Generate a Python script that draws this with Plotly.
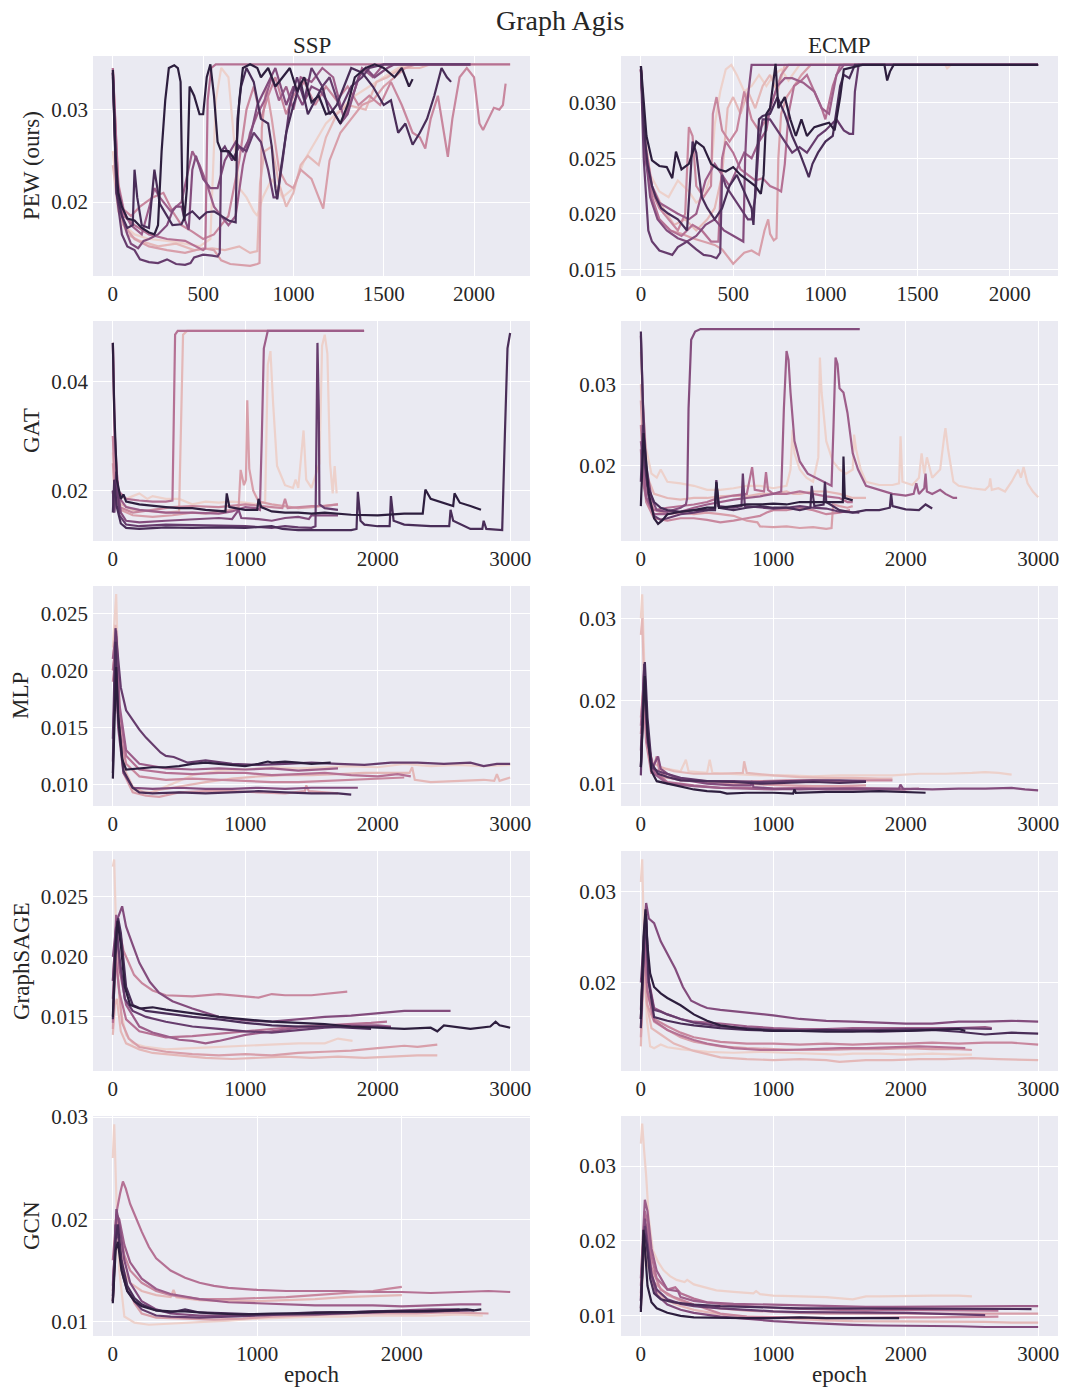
import math
import plotly.graph_objects as go

TITLE = "Graph Agis"
COLUMNS = ["SSP", "ECMP"]
ROWS = ["PEW (ours)", "GAT", "MLP", "GraphSAGE", "GCN"]
X_LABEL = "epoch"

# ---- data: each panel is a list of runs; each run is a list of [epoch, loss] ----
PEW_SSP = [
    [[0,0.0255],[20,0.021],[60,0.0175],[120,0.0165],[200,0.016],[300,0.0158],[400,0.0155],[480,0.0152],[540,0.016],[570,0.031],[600,0.0345],[640,0.0335],[670,0.027],[700,0.0215],[740,0.0205],[780,0.019],[800,0.0185],[830,0.0205],[880,0.0225],[940,0.0205],[1000,0.0215],[1060,0.0245],[1120,0.0265],[1180,0.0285],[1260,0.03],[1340,0.0315],[1420,0.0325],[1500,0.0335],[1580,0.0345],[1650,0.0349],[2200,0.0349]],
    [[0,0.024],[30,0.019],[80,0.0165],[150,0.0158],[250,0.0152],[350,0.0155],[450,0.0148],[550,0.015],[620,0.0148],[700,0.0152],[760,0.0145],[800,0.0147],[815,0.022],[840,0.0255],[880,0.026],[920,0.022],[960,0.0195],[1000,0.021],[1040,0.024],[1080,0.025],[1140,0.024],[1180,0.027],[1240,0.0295],[1300,0.0305],[1400,0.03],[1460,0.033],[1520,0.0335],[1600,0.0345],[1700,0.0345],[1760,0.0349],[1980,0.0349]],
    [[0,0.034],[30,0.022],[60,0.0175],[120,0.016],[200,0.0152],[300,0.0148],[400,0.0145],[500,0.015],[560,0.0148],[600,0.0137],[650,0.0133],[700,0.0132],[760,0.0131],[800,0.0133],[812,0.0134],[825,0.028],[850,0.0325],[880,0.029],[920,0.0235],[960,0.022],[1000,0.0215],[1040,0.0235],[1100,0.0225],[1140,0.0205],[1165,0.0193],[1200,0.0245],[1260,0.0275],[1320,0.029],[1380,0.0305],[1440,0.031],[1500,0.0325],[1560,0.0335],[1620,0.0345],[1680,0.0349],[1980,0.0349]],
    [[0,0.0345],[30,0.022],[60,0.0192],[100,0.0185],[150,0.0195],[220,0.0205],[280,0.021],[330,0.019],[380,0.0175],[440,0.0168],[500,0.016],[560,0.0165],[600,0.0175],[640,0.0185],[700,0.0245],[740,0.03],[780,0.0325],[820,0.029],[860,0.0315],[900,0.0335],[960,0.0295],[1000,0.0315],[1060,0.033],[1120,0.0305],[1180,0.0325],[1240,0.031],[1300,0.0325],[1360,0.0305],[1420,0.0315],[1480,0.0305],[1540,0.033],[1600,0.0305],[1660,0.0275],[1700,0.027],[1730,0.0258],[1760,0.029],[1800,0.0315],[1840,0.0265],[1855,0.0249],[1880,0.029],[1920,0.0335],[1960,0.0345],[2000,0.0335],[2030,0.0285],[2050,0.0278],[2080,0.029],[2110,0.0302],[2140,0.030],[2160,0.0305],[2175,0.0328]],
    [[0,0.0345],[30,0.021],[60,0.0185],[120,0.0175],[200,0.0165],[300,0.016],[400,0.0158],[460,0.0152],[500,0.0148],[512,0.015],[525,0.031],[545,0.0345],[570,0.0349],[2200,0.0349]],
    [[0,0.034],[25,0.022],[60,0.019],[100,0.0175],[160,0.0165],[230,0.0215],[260,0.0205],[320,0.019],[380,0.02],[420,0.0235],[440,0.0255],[480,0.024],[520,0.022],[560,0.0195],[600,0.0185],[640,0.0175],[680,0.0185],[720,0.024],[760,0.0275],[800,0.0295],[840,0.031],[880,0.0335],[920,0.031],[960,0.0325],[1000,0.03],[1040,0.0335],[1100,0.033],[1160,0.0345],[1220,0.0335],[1280,0.029],[1320,0.031],[1380,0.0345],[1440,0.0335],[1500,0.0349],[1980,0.0349]],
    [[0,0.034],[20,0.022],[50,0.0185],[80,0.0165],[100,0.0155],[140,0.015],[170,0.0158],[200,0.016],[250,0.0165],[300,0.0175],[330,0.019],[350,0.0195],[380,0.0195],[400,0.018],[420,0.017],[440,0.0235],[460,0.025],[500,0.0225],[540,0.0215],[580,0.0215],[620,0.0245],[680,0.0265],[720,0.0255],[760,0.027],[800,0.0305],[860,0.033],[900,0.0345],[960,0.0305],[1000,0.0325],[1050,0.0305],[1100,0.0325],[1150,0.032],[1200,0.0305],[1260,0.0285],[1300,0.0295],[1360,0.0335],[1400,0.0345],[1450,0.0335],[1520,0.0345],[1560,0.0349],[1980,0.0349]],
    [[0,0.0335],[20,0.021],[50,0.0165],[80,0.0152],[120,0.0148],[150,0.0138],[200,0.0135],[250,0.0134],[300,0.0138],[350,0.0133],[400,0.0132],[430,0.0134],[450,0.014],[500,0.0143],[550,0.0142],[580,0.0141],[592,0.0145],[600,0.0255],[620,0.026],[660,0.0245],[700,0.026],[740,0.0255],[780,0.0275],[820,0.0265],[860,0.0235],[890,0.0205],[910,0.0205],[940,0.0245],[980,0.0305],[1020,0.0335],[1060,0.031],[1100,0.0345],[1160,0.0325],[1200,0.0335],[1260,0.03],[1320,0.0325],[1380,0.0335],[1420,0.0345],[1500,0.0349],[1980,0.0349]],
    [[0,0.034],[20,0.021],[50,0.0185],[80,0.0172],[110,0.0175],[120,0.0235],[135,0.0205],[160,0.0175],[200,0.0172],[230,0.0235],[260,0.0198],[300,0.0185],[330,0.0175],[380,0.0176],[400,0.0185],[440,0.019],[480,0.0182],[520,0.0189],[560,0.019],[600,0.0185],[640,0.018],[680,0.0178],[690,0.029],[710,0.0325],[740,0.0345],[780,0.033],[820,0.029],[860,0.0285],[880,0.026],[900,0.0215],[910,0.0203],[930,0.0235],[960,0.0275],[1000,0.0305],[1040,0.033],[1080,0.0295],[1120,0.031],[1160,0.0325],[1200,0.0295],[1240,0.0305],[1280,0.0325],[1320,0.0345],[1380,0.034],[1440,0.0325],[1500,0.0305],[1540,0.031],[1580,0.0275],[1620,0.0285],[1660,0.0262],[1700,0.0275],[1740,0.029],[1780,0.0315],[1820,0.0345],[1850,0.0335],[1873,0.033]],
    [[0,0.0343],[15,0.025],[30,0.021],[50,0.0195],[80,0.0182],[120,0.018],[160,0.0172],[200,0.0167],[230,0.0165],[250,0.0175],[270,0.0255],[290,0.031],[310,0.0345],[340,0.0348],[360,0.0345],[375,0.033],[385,0.0205],[395,0.018],[410,0.0215],[425,0.0325],[450,0.0315],[480,0.0295],[500,0.0295],[520,0.0335],[540,0.0349],[560,0.0315],[580,0.0265],[600,0.0255],[640,0.0255],[680,0.0245],[700,0.031],[720,0.0345],[760,0.0349],[800,0.0345],[820,0.0335],[860,0.0345],[900,0.0325],[940,0.0335],[980,0.0345],[1020,0.032],[1060,0.0335],[1100,0.0308],[1140,0.0315],[1180,0.0295],[1220,0.0298],[1260,0.0285],[1300,0.0305],[1340,0.0335],[1400,0.0345],[1450,0.0349],[1500,0.0345],[1560,0.0335],[1600,0.0345],[1640,0.0325],[1660,0.0333]],
]

PEW_ECMP = [
    [[0,0.0325],[20,0.027],[50,0.0235],[100,0.022],[150,0.0215],[200,0.023],[260,0.022],[300,0.021],[340,0.0215],[380,0.0235],[400,0.028],[430,0.031],[460,0.033],[490,0.0334],[520,0.0325],[560,0.031],[600,0.0315],[640,0.0325],[680,0.0315],[720,0.0325],[760,0.033],[800,0.032],[860,0.0334],[1650,0.0334],[1660,0.0331],[1680,0.0334],[2153,0.0334]],
    [[0,0.033],[25,0.0265],[60,0.0225],[120,0.0205],[180,0.019],[240,0.0195],[300,0.0185],[360,0.0195],[400,0.0205],[440,0.0235],[470,0.0295],[500,0.0305],[540,0.029],[580,0.031],[620,0.0295],[660,0.0315],[700,0.0325],[740,0.031],[780,0.0334],[2153,0.0334]],
    [[0,0.033],[25,0.026],[60,0.021],[100,0.0195],[160,0.0185],[220,0.0182],[280,0.0178],[340,0.0175],[400,0.0172],[440,0.0168],[480,0.016],[500,0.0155],[530,0.016],[560,0.0165],[600,0.0167],[640,0.0163],[670,0.0185],[690,0.0195],[700,0.0182],[720,0.0176],[735,0.0178],[745,0.025],[760,0.029],[790,0.0305],[830,0.0315],[870,0.0325],[920,0.0334],[2153,0.0334]],
    [[0,0.033],[25,0.025],[60,0.022],[100,0.0205],[150,0.0195],[200,0.0185],[240,0.02],[260,0.0278],[280,0.027],[300,0.0225],[340,0.0215],[380,0.0225],[390,0.029],[410,0.0305],[440,0.0275],[480,0.0265],[520,0.0275],[560,0.031],[600,0.0285],[640,0.0275],[680,0.0285],[720,0.0305],[760,0.0325],[800,0.0334],[2153,0.0334]],
    [[0,0.033],[25,0.025],[60,0.0215],[100,0.0195],[160,0.0185],[220,0.018],[280,0.019],[330,0.0185],[380,0.0175],[420,0.0175],[440,0.025],[460,0.0265],[500,0.0255],[540,0.024],[580,0.0235],[620,0.023],[660,0.0232],[700,0.0225],[740,0.0222],[760,0.022],[780,0.0245],[800,0.029],[830,0.0315],[870,0.032],[900,0.0325],[940,0.031],[980,0.0295],[1000,0.0285],[1040,0.0315],[1080,0.0334],[2153,0.0334]],
    [[0,0.033],[25,0.026],[60,0.0225],[100,0.021],[150,0.0205],[200,0.02],[260,0.0195],[300,0.02],[350,0.023],[400,0.0245],[440,0.0235],[480,0.0225],[520,0.024],[560,0.0255],[600,0.025],[640,0.0265],[680,0.0275],[700,0.0295],[740,0.0315],[780,0.0322],[820,0.0322],[880,0.0318],[940,0.031],[980,0.0295],[1020,0.029],[1060,0.0325],[1100,0.0334],[2153,0.0334]],
    [[0,0.033],[20,0.026],[50,0.0215],[90,0.0195],[140,0.0185],[200,0.0178],[250,0.0175],[300,0.018],[350,0.019],[400,0.0195],[450,0.0185],[500,0.018],[540,0.0176],[555,0.0175],[565,0.025],[580,0.0305],[600,0.0334],[2153,0.0334]],
    [[0,0.033],[15,0.025],[40,0.0185],[60,0.0175],[100,0.0167],[140,0.0165],[170,0.0163],[200,0.017],[250,0.0175],[300,0.0168],[340,0.0163],[380,0.0162],[410,0.016],[430,0.0165],[440,0.0235],[460,0.0225],[500,0.0215],[540,0.0205],[580,0.0195],[600,0.0195],[620,0.0215],[640,0.0265],[660,0.0285],[700,0.0285],[740,0.0275],[780,0.0265],[820,0.0255],[860,0.026],[900,0.0255],[960,0.027],[1000,0.0275],[1060,0.0285],[1100,0.0275],[1130,0.0272],[1150,0.0272],[1160,0.031],[1180,0.0334],[2153,0.0334]],
    [[0,0.0333],[15,0.028],[35,0.0245],[60,0.0225],[80,0.0215],[110,0.0205],[150,0.02],[200,0.0195],[250,0.0185],[280,0.0265],[300,0.0255],[330,0.0215],[360,0.0205],[400,0.0195],[440,0.0205],[480,0.0225],[520,0.0235],[560,0.022],[600,0.0205],[610,0.019],[620,0.0225],[640,0.0285],[660,0.0288],[700,0.029],[740,0.0305],[780,0.029],[820,0.027],[860,0.0255],[890,0.0242],[910,0.0233],[930,0.0245],[960,0.0255],[1000,0.0265],[1040,0.027],[1080,0.0315],[1100,0.0325],[1130,0.0322],[1160,0.0334],[2153,0.0334]],
    [[0,0.0333],[15,0.03],[30,0.027],[60,0.0248],[100,0.0243],[140,0.0242],[170,0.0232],[190,0.0256],[220,0.024],[260,0.0245],[300,0.0265],[340,0.026],[380,0.0245],[420,0.024],[460,0.0238],[500,0.0242],[540,0.0235],[580,0.023],[620,0.0225],[650,0.0218],[665,0.0235],[680,0.029],[700,0.0295],[730,0.0335],[745,0.0295],[780,0.0305],[810,0.0285],[840,0.027],[870,0.0285],[900,0.027],[940,0.0278],[980,0.028],[1020,0.0282],[1050,0.0275],[1080,0.0305],[1100,0.033],[1200,0.0334],[1320,0.0334],[1335,0.032],[1350,0.0328],[1370,0.0334],[2153,0.0334]],
]

GAT_SSP = [
    [[0,0.027],[10,0.02],[50,0.019],[100,0.0185],[150,0.019],[200,0.0195],[260,0.0185],[300,0.019],[400,0.0185],[500,0.0185],[600,0.0175],[700,0.018],[800,0.0178],[900,0.018],[1000,0.0178],[1100,0.0175],[1150,0.018],[1170,0.043],[1190,0.0455],[1210,0.036],[1240,0.0245],[1300,0.021],[1360,0.0205],[1380,0.022],[1400,0.0205],[1440,0.031],[1460,0.022],[1500,0.0205],[1560,0.025],[1580,0.0465],[1600,0.0485],[1620,0.045],[1640,0.025],[1660,0.0195],[1675,0.0245],[1690,0.0195]],
    [[0,0.03],[15,0.022],[60,0.0175],[150,0.0165],[300,0.0162],[400,0.016],[500,0.0162],[515,0.035],[530,0.0485],[560,0.0492],[1897,0.0492]],
    [[0,0.025],[15,0.019],[60,0.0165],[150,0.0155],[300,0.0152],[450,0.0155],[600,0.016],[700,0.0158],[800,0.0162],[900,0.0165],[950,0.017],[965,0.0238],[990,0.021],[1005,0.022],[1015,0.0365],[1030,0.024],[1060,0.02],[1100,0.018],[1200,0.0175],[1300,0.0172],[1400,0.0168],[1500,0.017],[1600,0.0172],[1700,0.0175]],
    [[0,0.03],[15,0.02],[50,0.017],[150,0.016],[300,0.0165],[450,0.017],[600,0.0172],[800,0.017],[1000,0.0175],[1100,0.0172],[1200,0.017],[1280,0.0168],[1300,0.0185],[1320,0.0168],[1400,0.017],[1500,0.0172],[1600,0.0172],[1700,0.0175]],
    [[0,0.047],[15,0.028],[40,0.02],[100,0.0185],[200,0.0182],[300,0.018],[400,0.018],[450,0.0182],[458,0.03],[470,0.0485],[490,0.0492],[1897,0.0492]],
    [[0,0.047],[15,0.03],[40,0.019],[100,0.017],[200,0.0165],[400,0.016],[600,0.016],[800,0.0158],[900,0.0162],[1000,0.017],[1080,0.0168],[1110,0.0165],[1125,0.03],[1140,0.046],[1170,0.0492],[1897,0.0492]],
    [[0,0.02],[10,0.016],[30,0.022],[60,0.016],[100,0.0145],[200,0.0142],[400,0.0145],[600,0.0148],[800,0.015],[900,0.0148],[950,0.0165],[970,0.015],[1100,0.0148],[1200,0.0145],[1300,0.015],[1400,0.0152],[1480,0.0148],[1500,0.0155],[1600,0.0155],[1700,0.0155]],
    [[0,0.02],[10,0.016],[25,0.0235],[50,0.0155],[100,0.0138],[200,0.0135],[400,0.0138],[600,0.0137],[800,0.0135],[1000,0.0135],[1200,0.0132],[1300,0.0135],[1400,0.0133],[1500,0.0132],[1530,0.0135],[1545,0.047],[1555,0.035],[1560,0.0175],[1600,0.0168],[1700,0.0165]],
    [[0,0.016],[10,0.022],[30,0.017],[60,0.014],[100,0.0132],[200,0.013],[400,0.0133],[600,0.0132],[800,0.0133],[1000,0.0132],[1200,0.0135],[1280,0.013],[1400,0.0128],[1600,0.0128],[1800,0.0128],[1840,0.013],[1850,0.0198],[1870,0.0145],[1900,0.0138],[2000,0.0135],[2090,0.0135],[2100,0.019],[2120,0.0145],[2200,0.0138],[2400,0.0135],[2540,0.0135],[2550,0.0165],[2570,0.0145],[2700,0.013],[2790,0.013],[2800,0.0145],[2820,0.013],[2900,0.0128],[2940,0.0128],[2960,0.03],[2980,0.046],[3000,0.0488]],
    [[0,0.047],[10,0.035],[30,0.022],[60,0.0185],[80,0.0193],[100,0.018],[200,0.0175],[300,0.0172],[400,0.017],[500,0.0168],[600,0.0168],[700,0.0165],[800,0.0163],[850,0.0162],[860,0.0195],[880,0.017],[1000,0.0165],[1090,0.0165],[1100,0.0185],[1120,0.017],[1200,0.0162],[1300,0.016],[1400,0.016],[1500,0.0158],[1600,0.016],[1700,0.0158],[1800,0.0156],[2000,0.0155],[2200,0.0158],[2340,0.0158],[2360,0.0202],[2400,0.0185],[2500,0.0178],[2570,0.0172],[2580,0.0195],[2620,0.0178],[2700,0.0172],[2780,0.0165]],
]

GAT_ECMP = [
    [[0,0.034],[15,0.027],[40,0.022],[80,0.019],[120,0.0185],[150,0.0195],[200,0.018],[300,0.0178],[400,0.0175],[500,0.017],[600,0.017],[700,0.0172],[800,0.0175],[900,0.0175],[1000,0.0172],[1100,0.0175],[1130,0.0195],[1146,0.0244],[1160,0.0215],[1200,0.0195],[1250,0.0185],[1300,0.018],[1340,0.021],[1352,0.0333],[1365,0.029],[1400,0.023],[1450,0.0205],[1500,0.0195],[1550,0.019],[1600,0.0195],[1610,0.0238],[1625,0.022],[1660,0.0195],[1700,0.018],[1800,0.0176],[1900,0.0176],[1950,0.0178],[1961,0.0236],[1975,0.018],[2050,0.0176],[2100,0.0185],[2120,0.0215],[2140,0.019],[2160,0.021],[2200,0.0185],[2260,0.0195],[2290,0.0235],[2300,0.0246],[2320,0.022],[2360,0.018],[2400,0.0175],[2500,0.0172],[2600,0.017],[2630,0.0175],[2638,0.0184],[2650,0.017],[2700,0.0172],[2750,0.0168],[2800,0.018],[2850,0.0195],[2870,0.0185],[2890,0.0198],[2920,0.0178],[2960,0.0168],[3000,0.0161]],
    [[0,0.03],[15,0.024],[40,0.019],[100,0.0165],[200,0.016],[300,0.0158],[400,0.016],[500,0.016],[600,0.0162],[700,0.0163],[800,0.0162],[900,0.0165],[1000,0.0165],[1100,0.0168],[1150,0.0165],[1200,0.0165],[1300,0.0168],[1400,0.0168],[1500,0.0165],[1600,0.016],[1700,0.016]],
    [[0,0.028],[15,0.022],[40,0.017],[100,0.0145],[200,0.014],[300,0.0142],[400,0.014],[500,0.0142],[600,0.014],[700,0.0138],[800,0.0132],[880,0.013],[900,0.0125],[1000,0.0124],[1100,0.0125],[1200,0.0123],[1300,0.0124],[1400,0.0122],[1440,0.0123],[1452,0.0152],[1500,0.015],[1560,0.0148],[1600,0.015]],
    [[0,0.025],[15,0.02],[40,0.0155],[100,0.0135],[200,0.0132],[300,0.0135],[400,0.0135],[500,0.0133],[600,0.013],[700,0.0132],[800,0.0135],[900,0.0138],[950,0.0142],[1000,0.0145],[1100,0.0145],[1200,0.0148],[1300,0.0145],[1400,0.014],[1500,0.0142],[1580,0.0145]],
    [[0,0.022],[15,0.018],[40,0.016],[100,0.0145],[200,0.0148],[300,0.015],[400,0.0152],[500,0.0155],[550,0.0158],[600,0.016],[700,0.0163],[800,0.0165],[840,0.0198],[860,0.017],[930,0.0168],[945,0.0192],[960,0.017],[1000,0.0165],[1100,0.0165],[1200,0.0168],[1300,0.0165],[1400,0.0162],[1500,0.016],[1560,0.0155],[1600,0.0155]],
    [[0,0.023],[15,0.02],[40,0.016],[100,0.014],[200,0.014],[300,0.0143],[400,0.0148],[500,0.0152],[600,0.0155],[700,0.0158],[800,0.016],[900,0.0162],[1000,0.0165],[1060,0.0168],[1080,0.027],[1100,0.0341],[1115,0.033],[1130,0.029],[1160,0.023],[1200,0.0205],[1260,0.019],[1320,0.0185],[1400,0.0178],[1440,0.0175],[1455,0.025],[1470,0.0333],[1485,0.0325],[1500,0.0295],[1530,0.029],[1560,0.0265],[1600,0.0215],[1640,0.0195],[1700,0.0175],[1800,0.017],[1900,0.0165],[2000,0.0163],[2060,0.0165],[2080,0.0178],[2100,0.0165],[2140,0.0172],[2150,0.019],[2160,0.0168],[2200,0.0165],[2260,0.017],[2300,0.0165],[2360,0.016],[2388,0.016]],
    [[0,0.036],[15,0.028],[40,0.02],[80,0.016],[120,0.0145],[200,0.0143],[300,0.0148],[340,0.0152],[350,0.016],[360,0.027],[380,0.0355],[410,0.0365],[450,0.0368],[1653,0.0368]],
    [[0,0.018],[15,0.025],[30,0.02],[60,0.016],[100,0.0138],[150,0.0133],[200,0.0135],[300,0.014],[400,0.0142],[500,0.0145],[560,0.0148],[570,0.0182],[585,0.015],[700,0.0148],[760,0.015],[770,0.019],[785,0.015],[900,0.0148],[1000,0.0147],[1100,0.0148],[1200,0.015],[1300,0.0148],[1400,0.0147],[1500,0.0143],[1600,0.0142],[1650,0.0142]],
    [[0,0.0365],[10,0.03],[25,0.022],[50,0.0175],[100,0.0155],[150,0.0148],[200,0.0145],[300,0.0143],[400,0.0145],[560,0.0145],[570,0.0178],[590,0.0148],[700,0.0145],[800,0.0148],[900,0.015],[1000,0.0148],[1100,0.0148],[1200,0.0145],[1280,0.0148],[1290,0.0175],[1310,0.015],[1380,0.0152],[1390,0.018],[1400,0.0155],[1500,0.0145],[1600,0.0142],[1700,0.0145],[1800,0.0145],[1880,0.0148],[1890,0.0165],[1900,0.015],[2000,0.0146],[2100,0.0145],[2150,0.0152],[2200,0.0147]],
    [[0,0.015],[10,0.02],[20,0.024],[40,0.0205],[60,0.0165],[100,0.0135],[130,0.0128],[160,0.0132],[200,0.014],[300,0.0143],[400,0.0145],[500,0.0148],[560,0.0148],[570,0.018],[590,0.0148],[700,0.015],[800,0.0152],[900,0.0152],[1000,0.0153],[1100,0.0152],[1200,0.0155],[1300,0.0155],[1400,0.0155],[1500,0.0155],[1525,0.0155],[1530,0.0211],[1540,0.016],[1600,0.0157]],
]

MLP_SSP = [
    [[0,0.022],[15,0.025],[25,0.0267],[40,0.02],[60,0.014],[100,0.0108],[150,0.0095],[200,0.0094],[300,0.0093],[400,0.0098],[600,0.0108],[800,0.0112],[1000,0.0113],[1200,0.0115],[1400,0.0114],[1600,0.0115],[1800,0.0116],[2000,0.0115],[2200,0.0118],[2400,0.0116],[2600,0.0117],[2800,0.0116],[3000,0.0117]],
    [[0,0.021],[20,0.024],[40,0.018],[80,0.0115],[150,0.0098],[250,0.0092],[350,0.0095],[500,0.0098],[700,0.0102],[900,0.0105],[1100,0.0107],[1300,0.0108],[1500,0.0108],[1700,0.0109],[1900,0.011],[2100,0.011],[2240,0.011],[2260,0.0115],[2280,0.0104],[2400,0.0102],[2600,0.0103],[2800,0.0104],[2880,0.0103],[2900,0.0109],[2920,0.0103],[3000,0.0106]],
    [[0,0.02],[20,0.022],[40,0.016],[80,0.011],[150,0.0093],[250,0.009],[350,0.0089],[500,0.0093],[700,0.0094],[900,0.0094],[1100,0.0093],[1300,0.0092],[1450,0.0094],[1460,0.0099],[1480,0.0094],[1600,0.0093],[1700,0.0092]],
    [[0,0.019],[25,0.022],[50,0.015],[100,0.0118],[200,0.0107],[400,0.0104],[600,0.0105],[800,0.0104],[1000,0.0103],[1200,0.0102],[1400,0.0102],[1600,0.0103],[1800,0.0104],[2000,0.0105],[2200,0.0106]],
    [[0,0.02],[25,0.023],[50,0.0165],[100,0.0125],[200,0.0113],[400,0.011],[600,0.0109],[800,0.011],[1000,0.011],[1200,0.0108],[1400,0.0109],[1600,0.011],[1800,0.0108],[2000,0.0107],[2150,0.0109],[2250,0.0107]],
    [[0,0.021],[25,0.0235],[50,0.017],[100,0.013],[200,0.0118],[400,0.0114],[600,0.0113],[800,0.0114],[1000,0.0113],[1200,0.0114],[1400,0.0112],[1600,0.0113],[1700,0.0114]],
    [[0,0.012],[20,0.022],[40,0.015],[80,0.011],[150,0.0097],[300,0.0096],[500,0.0097],[700,0.0096],[900,0.0096],[1100,0.0097],[1300,0.0096],[1500,0.0097],[1700,0.0097],[1850,0.0097]],
    [[0,0.014],[20,0.0237],[40,0.021],[60,0.0185],[100,0.0165],[150,0.0156],[200,0.0148],[250,0.0141],[300,0.0135],[360,0.0128],[400,0.0125],[460,0.0124],[565,0.0119],[700,0.0121],[900,0.0118],[1100,0.0117],[1300,0.0118],[1500,0.0119],[1700,0.0118],[1900,0.0117],[2100,0.0119],[2300,0.0119],[2500,0.0118],[2700,0.0119],[2800,0.0116],[2900,0.0118],[3000,0.0118]],
    [[0,0.011],[20,0.0225],[40,0.016],[80,0.0112],[150,0.0097],[200,0.0093],[300,0.0092],[500,0.0093],[700,0.0092],[900,0.0093],[1100,0.0094],[1300,0.0093],[1500,0.0092],[1700,0.0092],[1800,0.0091]],
    [[0,0.0105],[15,0.017],[25,0.0203],[40,0.016],[70,0.0122],[100,0.0113],[200,0.0114],[300,0.0115],[400,0.0115],[500,0.0116],[600,0.0118],[700,0.0119],[800,0.0118],[900,0.0117],[1000,0.0116],[1100,0.0118],[1170,0.012],[1200,0.0119],[1300,0.012],[1400,0.0119],[1500,0.0118],[1645,0.0119]],
]

MLP_ECMP = [
    [[0,0.03],[10,0.0329],[25,0.025],[50,0.016],[80,0.0125],[120,0.0115],[200,0.0118],[300,0.0115],[340,0.0129],[360,0.0115],[500,0.0113],[520,0.0129],[540,0.0113],[700,0.0112],[900,0.011],[1100,0.011],[1300,0.0109],[1500,0.011],[1700,0.011],[1900,0.011],[2100,0.0112],[2300,0.0112],[2500,0.0113],[2600,0.0114],[2700,0.0113],[2800,0.0111]],
    [[0,0.028],[10,0.03],[25,0.022],[50,0.015],[90,0.0125],[150,0.012],[250,0.0115],[400,0.0112],[600,0.0112],[770,0.0113],[780,0.0127],[800,0.0113],[1000,0.011],[1200,0.0108],[1400,0.0107],[1600,0.0107],[1800,0.0106],[1900,0.0106]],
    [[0,0.018],[20,0.022],[40,0.016],[80,0.0115],[150,0.0108],[300,0.0105],[500,0.0102],[700,0.01],[900,0.0099],[1100,0.0098],[1300,0.0097],[1500,0.0097],[1700,0.0098]],
    [[0,0.016],[20,0.021],[40,0.015],[80,0.0112],[120,0.0133],[140,0.0115],[200,0.0108],[300,0.0104],[500,0.0103],[700,0.0102],[900,0.0103],[1100,0.0104],[1300,0.0104],[1500,0.0103],[1700,0.0104],[1900,0.0104]],
    [[0,0.017],[25,0.0235],[50,0.015],[100,0.0115],[200,0.0102],[400,0.0098],[600,0.0095],[800,0.0095],[1000,0.0094],[1200,0.0095],[1400,0.0094],[1600,0.0095],[1800,0.0094],[2000,0.0093],[2100,0.0094]],
    [[0,0.014],[25,0.024],[50,0.0155],[100,0.0112],[200,0.01],[400,0.0097],[600,0.0095],[800,0.0094],[1000,0.0093],[1200,0.0094],[1400,0.0093],[1600,0.0093],[1800,0.0093],[2000,0.0093]],
    [[0,0.012],[25,0.024],[50,0.015],[90,0.012],[130,0.0133],[150,0.0118],[200,0.0112],[300,0.0105],[500,0.01],[700,0.0098],[830,0.0098],[840,0.0103],[850,0.0096],[1000,0.0094],[1200,0.0093],[1400,0.0094],[1600,0.0094],[1800,0.0094],[1950,0.0094],[1960,0.0099],[1980,0.0094],[2200,0.0093],[2400,0.0094],[2600,0.0094],[2800,0.0095],[2900,0.0093],[3000,0.0092]],
    [[0,0.011],[25,0.0245],[50,0.016],[80,0.012],[130,0.0115],[200,0.0112],[300,0.0107],[500,0.0103],[700,0.0103],[900,0.0102],[1100,0.0103],[1300,0.0104],[1500,0.0104],[1700,0.0103]],
    [[0,0.012],[30,0.0247],[50,0.018],[80,0.0125],[130,0.0112],[200,0.0108],[300,0.0104],[500,0.0103],[700,0.0102],[900,0.01],[1100,0.0101],[1300,0.0102],[1500,0.0101],[1700,0.0102]],
    [[0,0.012],[30,0.023],[50,0.016],[80,0.0115],[120,0.0103],[200,0.01],[300,0.0097],[400,0.0093],[500,0.0091],[600,0.009],[650,0.0088],[800,0.0089],[1000,0.0089],[1150,0.0088],[1160,0.0093],[1170,0.0089],[1400,0.009],[1600,0.009],[1800,0.0091],[2000,0.009],[2150,0.0089]],
]

SAGE_SSP = [
    [[0,0.0275],[10,0.0281],[25,0.022],[50,0.016],[100,0.0135],[150,0.0128],[250,0.0125],[400,0.0123],[600,0.0124],[800,0.0125],[1000,0.0126],[1200,0.0127],[1400,0.0128],[1600,0.0128],[1700,0.0132],[1810,0.013]],
    [[0,0.0135],[15,0.016],[30,0.0165],[60,0.0138],[100,0.0128],[200,0.0123],[300,0.012],[500,0.0118],[700,0.0116],[900,0.0115],[1100,0.0116],[1300,0.0117],[1500,0.0116],[1700,0.0117],[1900,0.0116],[2100,0.0117],[2300,0.0118],[2450,0.0118]],
    [[0,0.014],[20,0.021],[40,0.018],[70,0.0145],[120,0.0132],[200,0.0125],[400,0.0121],[600,0.0119],[800,0.0118],[1000,0.0119],[1200,0.0118],[1400,0.012],[1600,0.0121],[1800,0.0122],[2000,0.0124],[2200,0.0126],[2300,0.0125],[2450,0.0127]],
    [[0,0.018],[25,0.023],[45,0.0225],[80,0.0205],[120,0.0195],[160,0.0185],[220,0.0178],[300,0.0172],[400,0.0168],[600,0.0167],[800,0.0169],[1000,0.0167],[1100,0.0166],[1200,0.0169],[1300,0.0168],[1500,0.0168],[1650,0.017],[1770,0.0171]],
    [[0,0.0145],[20,0.02],[50,0.017],[100,0.0148],[200,0.0138],[400,0.0133],[600,0.0134],[800,0.0136],[1000,0.0138],[1200,0.014],[1400,0.0142],[1600,0.0143],[1800,0.0144],[1950,0.0145],[2070,0.0146]],
    [[0,0.0165],[25,0.0235],[50,0.019],[100,0.016],[200,0.0142],[300,0.0137],[400,0.0134],[500,0.0131],[600,0.013],[700,0.0128],[800,0.013],[1000,0.0135],[1200,0.0138],[1400,0.0141],[1600,0.0142],[1800,0.0143],[2000,0.0143],[2100,0.0142]],
    [[0,0.02],[30,0.023],[70,0.0242],[100,0.0225],[150,0.021],[200,0.0195],[280,0.0179],[350,0.017],[450,0.0163],[600,0.0157],[800,0.015],[1000,0.0147],[1200,0.0146],[1400,0.0148],[1600,0.015],[1800,0.0151],[2000,0.0153],[2200,0.0155],[2400,0.0155],[2550,0.0155]],
    [[0,0.018],[25,0.0225],[50,0.02],[90,0.0165],[150,0.0155],[250,0.015],[400,0.0146],[600,0.0142],[800,0.014],[1000,0.0138],[1200,0.0137],[1400,0.0139],[1600,0.0141],[1800,0.0142],[2000,0.0142],[2100,0.0141]],
    [[0,0.0148],[20,0.02],[40,0.0232],[60,0.022],[100,0.0175],[150,0.016],[250,0.0155],[400,0.0153],[600,0.015],[800,0.0148],[1000,0.0145],[1200,0.0143],[1400,0.0142],[1600,0.0142],[1800,0.0141],[1950,0.014]],
    [[0,0.015],[20,0.021],[35,0.023],[60,0.021],[90,0.0175],[130,0.016],[200,0.0157],[300,0.0158],[400,0.0156],[600,0.0153],[800,0.015],[1000,0.0148],[1200,0.0146],[1400,0.0145],[1600,0.0144],[1800,0.0142],[2000,0.0141],[2200,0.014],[2400,0.0141],[2450,0.0138],[2500,0.0143],[2700,0.014],[2850,0.0142],[2890,0.0146],[2920,0.0143],[3000,0.0141]],
]

SAGE_ECMP = [
    [[0,0.031],[10,0.0335],[25,0.024],[45,0.016],[70,0.013],[100,0.0128],[150,0.0132],[200,0.0129],[300,0.0127],[500,0.0124],[700,0.0123],[900,0.0124],[1100,0.0123],[1300,0.0122],[1500,0.0121],[1600,0.0122],[1800,0.0122],[2000,0.0121],[2200,0.0122],[2400,0.0121],[2500,0.0121]],
    [[0,0.013],[20,0.022],[40,0.018],[80,0.015],[150,0.0143],[250,0.0133],[400,0.0125],[600,0.0118],[800,0.0116],[1000,0.0115],[1200,0.0116],[1400,0.0115],[1500,0.0113],[1700,0.0115],[1900,0.0115],[2100,0.0116],[2300,0.0116],[2500,0.0117],[2700,0.0116],[2900,0.0115],[3000,0.0115]],
    [[0,0.014],[25,0.023],[50,0.0175],[100,0.0157],[200,0.0148],[300,0.014],[400,0.0135],[600,0.013],[800,0.0128],[1000,0.0127],[1200,0.0126],[1400,0.0126],[1600,0.0127],[1800,0.0127],[2000,0.0128],[2200,0.0127],[2400,0.0127],[2500,0.0126]],
    [[0,0.015],[25,0.024],[50,0.019],[100,0.016],[200,0.0152],[300,0.0145],[400,0.014],[600,0.0135],[800,0.0133],[1000,0.0133],[1200,0.0132],[1400,0.0133],[1600,0.0132],[1800,0.0133],[2000,0.0133],[2200,0.0134],[2400,0.0133],[2600,0.0134],[2800,0.0134],[3000,0.0132]],
    [[0,0.016],[25,0.025],[50,0.019],[100,0.0158],[200,0.0148],[300,0.0142],[400,0.0137],[500,0.0133],[700,0.0128],[900,0.0126],[1100,0.0126],[1300,0.0127],[1500,0.0128],[1700,0.0128],[1900,0.0129],[2100,0.013],[2300,0.0129],[2450,0.0128]],
    [[0,0.017],[30,0.026],[50,0.021],[100,0.0172],[200,0.0165],[300,0.016],[400,0.0157],[600,0.0155],[800,0.0152],[1000,0.015],[1200,0.0149],[1400,0.0149],[1600,0.015],[1800,0.015],[2000,0.015],[2200,0.015],[2400,0.015],[2600,0.0151],[2650,0.015]],
    [[0,0.02],[25,0.026],[40,0.0287],[60,0.027],[100,0.0265],[150,0.0245],[200,0.0232],[260,0.0215],[318,0.0195],[380,0.018],[450,0.0175],[500,0.0172],[600,0.017],[800,0.0167],[1000,0.0164],[1200,0.016],[1400,0.0158],[1600,0.0157],[1800,0.0156],[2000,0.0155],[2200,0.0155],[2400,0.0157],[2600,0.0157],[2800,0.0158],[3000,0.0157]],
    [[0,0.016],[25,0.025],[40,0.0275],[60,0.02],[100,0.017],[150,0.0168],[200,0.0165],[300,0.016],[400,0.0156],[600,0.0152],[800,0.015],[1000,0.0148],[1200,0.0147],[1400,0.0147],[1600,0.0148],[1800,0.0148],[2000,0.0149],[2200,0.0149],[2400,0.015],[2650,0.0149]],
    [[0,0.015],[25,0.024],[40,0.027],[60,0.02],[100,0.0162],[200,0.0158],[300,0.0155],[400,0.0153],[600,0.015],[800,0.0148],[1000,0.0147],[1200,0.0147],[1400,0.0148],[1600,0.0147],[1800,0.0146],[2000,0.0147],[2200,0.0148],[2400,0.0146],[2600,0.0143],[2800,0.0145],[3000,0.0144]],
    [[0,0.016],[20,0.025],[35,0.028],[50,0.024],[70,0.021],[100,0.0195],[150,0.0188],[200,0.0183],[300,0.0175],[400,0.0165],[500,0.0158],[600,0.0153],[800,0.0149],[1000,0.0147],[1200,0.0147],[1400,0.0146],[1600,0.0146],[1800,0.0147],[2000,0.0147],[2200,0.0148],[2400,0.0149],[2450,0.0147]],
]

GCN_SSP = [
    [[0,0.026],[10,0.0293],[25,0.022],[45,0.015],[80,0.0105],[150,0.0099],[250,0.0097],[400,0.0098],[600,0.0099],[800,0.0101],[1000,0.0103],[1200,0.0104],[1400,0.0105],[1600,0.0105],[1800,0.0106],[2000,0.0106],[2200,0.0106],[2400,0.0107],[2560,0.0106]],
    [[0,0.012],[20,0.018],[45,0.017],[80,0.0148],[120,0.0138],[200,0.013],[300,0.0126],[400,0.0124],[420,0.0131],[440,0.0124],[600,0.0121],[800,0.012],[1000,0.012],[1200,0.0121],[1400,0.0122],[1600,0.0124],[1800,0.0125],[2000,0.0126]],
    [[0,0.012],[20,0.02],[40,0.019],[70,0.0155],[100,0.0135],[150,0.0118],[200,0.0108],[300,0.0104],[500,0.0103],[700,0.0102],[900,0.0103],[1100,0.0105],[1300,0.0106],[1500,0.0107],[1700,0.0108],[1900,0.0108],[2100,0.0108],[2300,0.0109],[2500,0.0108],[2600,0.0108]],
    [[0,0.013],[25,0.02],[50,0.019],[80,0.0165],[120,0.015],[200,0.0138],[300,0.013],[400,0.0126],[500,0.0124],[600,0.0122],[800,0.0122],[1000,0.0123],[1200,0.0124],[1400,0.0126],[1600,0.0128],[1800,0.013],[1900,0.0132],[2000,0.0134]],
    [[0,0.016],[30,0.021],[50,0.0225],[70,0.0237],[90,0.023],[120,0.0215],[150,0.0205],[200,0.0188],[250,0.0173],[300,0.0162],[400,0.015],[500,0.0143],[600,0.0138],[700,0.0135],[800,0.0133],[1000,0.0131],[1200,0.013],[1400,0.013],[1600,0.013],[1800,0.0129],[2000,0.0129],[2200,0.0128],[2400,0.0129],[2600,0.013],[2750,0.0129]],
    [[0,0.0135],[25,0.0205],[45,0.02],[80,0.0175],[120,0.0158],[200,0.0142],[300,0.0132],[400,0.0127],[600,0.0122],[800,0.0119],[1000,0.0118],[1200,0.0117],[1400,0.0116],[1600,0.0116],[1800,0.0116],[2000,0.0115],[2200,0.0116],[2400,0.0117],[2550,0.0117]],
    [[0,0.012],[25,0.021],[45,0.0195],[80,0.016],[120,0.0138],[200,0.012],[300,0.0112],[400,0.0108],[600,0.0106],[800,0.0106],[1000,0.0107],[1200,0.0107],[1400,0.0108],[1600,0.0109],[1800,0.011],[2000,0.0111],[2200,0.0112],[2400,0.0112]],
    [[0,0.0125],[20,0.0195],[40,0.018],[70,0.0145],[100,0.013],[150,0.012],[200,0.0112],[300,0.0106],[400,0.0105],[600,0.0104],[800,0.0105],[1000,0.0106],[1200,0.0107],[1400,0.0107],[1600,0.0108],[1800,0.0109],[2000,0.011],[2200,0.011],[2400,0.0111],[2500,0.0111]],
    [[0,0.012],[20,0.018],[35,0.0195],[60,0.016],[100,0.0135],[150,0.0123],[200,0.0117],[300,0.0111],[400,0.0109],[500,0.0112],[600,0.0109],[800,0.0108],[1000,0.0107],[1200,0.0108],[1400,0.0109],[1600,0.0109],[1800,0.011],[2000,0.011],[2200,0.011],[2400,0.0111]],
    [[0,0.0118],[20,0.017],[35,0.0178],[60,0.015],[100,0.013],[150,0.012],[200,0.0115],[300,0.0111],[400,0.011],[500,0.011],[700,0.0108],[900,0.0107],[1100,0.0108],[1300,0.0108],[1500,0.0109],[1700,0.0109],[1900,0.011],[2100,0.011],[2300,0.0111],[2450,0.0112],[2500,0.0111],[2550,0.0112]],
]

GCN_ECMP = [
    [[0,0.033],[10,0.0357],[25,0.032],[40,0.0287],[60,0.023],[90,0.0188],[130,0.0172],[170,0.0161],[220,0.0153],[270,0.0148],[330,0.0145],[350,0.0148],[400,0.0142],[500,0.0137],[570,0.0134],[700,0.0132],[850,0.013],[870,0.0133],[900,0.0129],[1000,0.0127],[1200,0.0126],[1400,0.0125],[1600,0.0122],[1700,0.0126],[1800,0.0126],[2000,0.0127],[2200,0.0127],[2400,0.0127],[2500,0.0126]],
    [[0,0.011],[25,0.019],[50,0.017],[100,0.0135],[200,0.012],[300,0.0113],[400,0.0108],[600,0.0102],[800,0.0099],[1000,0.0097],[1200,0.0095],[1400,0.0094],[1600,0.0093],[1800,0.0093],[2000,0.0093],[2200,0.0092],[2400,0.0092],[2600,0.0092],[2800,0.0091],[3000,0.0091]],
    [[0,0.0125],[25,0.021],[50,0.0185],[100,0.0145],[200,0.0128],[300,0.012],[400,0.0115],[600,0.011],[800,0.0107],[1000,0.0105],[1200,0.0104],[1400,0.0103],[1600,0.0103],[1800,0.0103],[2000,0.0103],[2200,0.0103],[2400,0.0103],[2600,0.0103],[2800,0.0103],[3000,0.0103]],
    [[0,0.013],[25,0.0225],[45,0.022],[80,0.0165],[150,0.0135],[250,0.0125],[400,0.0115],[600,0.0103],[800,0.0099],[1000,0.0098],[1200,0.0097],[1400,0.0097],[1600,0.0097],[1800,0.0098],[2000,0.0098],[2200,0.0098],[2400,0.0098],[2600,0.0099],[2700,0.0099]],
    [[0,0.014],[30,0.024],[50,0.0225],[80,0.018],[120,0.015],[200,0.0135],[260,0.0138],[300,0.013],[400,0.0123],[500,0.0118],[700,0.0114],[900,0.0112],[1100,0.011],[1300,0.0109],[1500,0.0108],[1700,0.0107],[1900,0.0108],[2100,0.0108],[2300,0.0108],[2500,0.0107],[2700,0.0107]],
    [[0,0.015],[30,0.0255],[50,0.024],[80,0.019],[120,0.016],[200,0.0135],[280,0.0133],[300,0.0125],[400,0.012],[500,0.0118],[700,0.0116],[900,0.0115],[1100,0.0114],[1300,0.0113],[1500,0.0113],[1700,0.0112],[1900,0.0112],[2100,0.0112],[2300,0.0112],[2500,0.0112],[2700,0.0113],[2900,0.0113],[3000,0.0113]],
    [[0,0.012],[30,0.023],[50,0.02],[80,0.0155],[120,0.0128],[200,0.0115],[300,0.0108],[400,0.0104],[600,0.0099],[800,0.0096],[1000,0.0093],[1200,0.0091],[1400,0.0089],[1600,0.0088],[1800,0.0087],[2000,0.0087],[2200,0.0086],[2400,0.0086],[2600,0.0085],[2800,0.0085],[3000,0.0085]],
    [[0,0.012],[30,0.022],[50,0.019],[80,0.0155],[120,0.0135],[200,0.0122],[300,0.0116],[400,0.0113],[600,0.011],[800,0.0108],[1000,0.0106],[1200,0.0105],[1400,0.0105],[1600,0.0104],[1800,0.0104],[2000,0.0104],[2200,0.0103],[2400,0.0102],[2600,0.0101]],
    [[0,0.011],[25,0.021],[45,0.0195],[70,0.015],[100,0.013],[150,0.0122],[250,0.0118],[400,0.0115],[600,0.0113],[800,0.0112],[1000,0.0111],[1200,0.011],[1400,0.011],[1600,0.011],[1800,0.011],[2000,0.011],[2200,0.011],[2400,0.011],[2600,0.011],[2800,0.011],[2950,0.0109]],
    [[0,0.0105],[20,0.0215],[35,0.018],[50,0.014],[80,0.0118],[120,0.011],[200,0.0104],[300,0.01],[400,0.0098],[600,0.0097],[800,0.0097],[1000,0.0097],[1200,0.0098],[1400,0.0097],[1600,0.0097],[1800,0.0097],[1950,0.0097]],
]

PANELS = [[PEW_SSP, PEW_ECMP], [GAT_SSP, GAT_ECMP], [MLP_SSP, MLP_ECMP], [SAGE_SSP, SAGE_ECMP], [GCN_SSP, GCN_ECMP]]

# ---- styling / layout ----
W, H = 1066, 1390
FONT = "Liberation Serif, DejaVu Serif, serif"
TXT = "#262626"
BG = "#EAEAF2"

def cubehelix(x, start=0.0, rot=0.4, hue=0.8, gamma=1.0):
    xg = x ** gamma
    a = hue * xg * (1 - xg) / 2
    phi = 2 * math.pi * (start / 3 + rot * x)
    r = xg + a * (-0.14861 * math.cos(phi) + 1.78277 * math.sin(phi))
    g = xg + a * (-0.29227 * math.cos(phi) - 0.90649 * math.sin(phi))
    b = xg + a * (1.97294 * math.cos(phi))
    c = [max(0, min(1, v)) for v in (r, g, b)]
    return "rgb(%d,%d,%d)" % tuple(round(v * 255) for v in c)

N = 10
COLORS = [cubehelix(0.85 - 0.70 * i / (N - 1)) for i in range(N)]

COL_PX = [(93, 530), (621, 1058)]
ROW_PX = [(56, 276), (321, 541), (586, 806), (851, 1071), (1116, 1336)]
ROW_LABEL_X = [31, 31, 21, 21, 31]

XRANGES = [[[-110, 2310], [-108, 2261]],
           [[-150, 3150], [-150, 3150]],
           [[-150, 3150], [-150, 3150]],
           [[-150, 3150], [-150, 3150]],
           [[-137, 2887], [-150, 3150]]]
XDTICK = [500, 1000, 1000, 1000, 1000]
YRANGES = [[[0.0120, 0.0358], [0.0144, 0.0342]],
           [[0.0108, 0.0510], [0.0107, 0.0378]],
           [[0.0081, 0.0274], [0.0073, 0.0339]],
           [[0.0105, 0.0288], [0.0103, 0.0344]],
           [[0.0086, 0.0301], [0.0073, 0.0367]]]
YTICKS = [[(0.01, ".2f"), (0.005, ".3f")],
          [(0.02, ".2f"), (0.01, ".2f")],
          [(0.005, ".3f"), (0.01, ".2f")],
          [(0.005, ".3f"), (0.01, ".2f")],
          [(0.01, ".2f"), (0.01, ".2f")]]

fig = go.Figure()
layout = {}
k = 0
for r in range(5):
    for c in range(2):
        k += 1
        xa = "xaxis" if k == 1 else "xaxis%d" % k
        ya = "yaxis" if k == 1 else "yaxis%d" % k
        xr = "x" if k == 1 else "x%d" % k
        yr = "y" if k == 1 else "y%d" % k
        runs = PANELS[r][c]
        for i, run in enumerate(runs):
            fig.add_trace(go.Scatter(
                x=[p[0] for p in run], y=[p[1] for p in run],
                mode="lines", line=dict(color=COLORS[i], width=2.2),
                xaxis=xr, yaxis=yr, showlegend=False, hoverinfo="skip"))
        x0, x1 = COL_PX[c]
        y0, y1 = ROW_PX[r]
        axis_common = dict(showgrid=True, gridcolor="white", gridwidth=1.1, zeroline=False,
                           showline=False, ticks="", automargin=False,
                           tickfont=dict(family=FONT, size=21, color=TXT))
        layout[xa] = dict(domain=[x0 / W, x1 / W], range=XRANGES[r][c], anchor=yr,
                          tick0=0, dtick=XDTICK[r], ticklabelstandoff=3, **axis_common)
        dt, fmt = YTICKS[r][c]
        layout[ya] = dict(domain=[1 - y1 / H, 1 - y0 / H], range=YRANGES[r][c], anchor=xr,
                          tick0=0, dtick=dt, tickformat=fmt, ticklabelstandoff=4, **axis_common)

ann = []
ann.append(dict(text=TITLE, x=560 / W, y=1 - 20 / H, xref="paper", yref="paper",
                showarrow=False, font=dict(family=FONT, size=28, color=TXT), xanchor="center", yanchor="middle"))
for c, name in enumerate(COLUMNS):
    cx = (COL_PX[c][0] + COL_PX[c][1]) / 2
    ann.append(dict(text=name, x=cx / W, y=1 - 45 / H, xref="paper", yref="paper",
                    showarrow=False, font=dict(family=FONT, size=23, color=TXT), xanchor="center", yanchor="middle"))
    ann.append(dict(text=X_LABEL, x=cx / W, y=1 - 1374 / H, xref="paper", yref="paper",
                    showarrow=False, font=dict(family=FONT, size=23, color=TXT), xanchor="center", yanchor="middle"))
for r, name in enumerate(ROWS):
    cy = (ROW_PX[r][0] + ROW_PX[r][1]) / 2
    ann.append(dict(text=name, x=ROW_LABEL_X[r] / W, y=1 - cy / H, xref="paper", yref="paper", textangle=-90,
                    showarrow=False, font=dict(family=FONT, size=23, color=TXT), xanchor="center", yanchor="middle"))

fig.update_layout(template="none", width=W, height=H, margin=dict(l=0, r=0, t=0, b=0, pad=0),
                  autosize=False, paper_bgcolor="white", plot_bgcolor=BG, annotations=ann,
                  font=dict(family=FONT, color=TXT), **layout)

fig.write_html("out.html", include_plotlyjs=True,
               post_script="document.body.style.margin='0';document.body.style.padding='0';")
